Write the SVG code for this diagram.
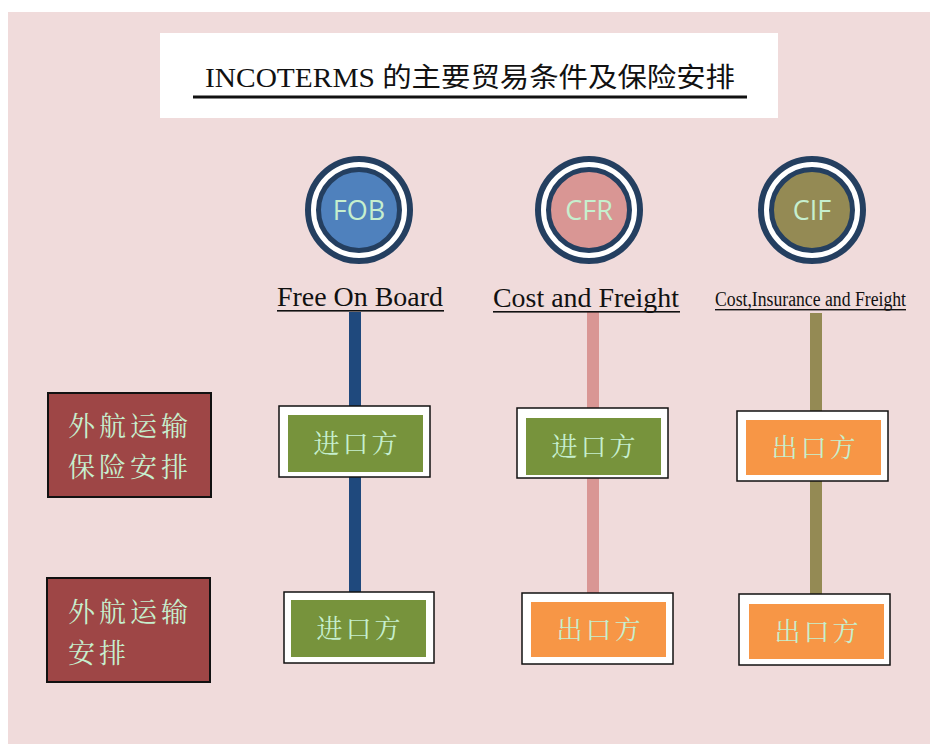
<svg xmlns="http://www.w3.org/2000/svg" width="930" height="744" viewBox="0 0 930 744">
<defs>
<style>
.bg{fill:#F0DBDB}
.ring{stroke:#243F60}
.ctext{font-family:"Open Sans","Liberation Sans",sans-serif;font-size:27px;fill:#C6EFCE;text-anchor:middle}
.lab{font-family:"Liberation Serif","Times New Roman",serif;font-size:27px;fill:#111}
.box{fill:#fff;stroke:#111;stroke-width:1.5}
.green{fill:#77933C}
.orange{fill:#F79646}
.btext{font-family:"Noto Serif CJK SC","Noto Sans CJK SC",serif;font-size:26px;fill:#C6EFCE;text-anchor:middle;letter-spacing:3px}
.side{fill:#9E4646;stroke:#111;stroke-width:2}
.stext{font-family:"Noto Serif CJK SC","Noto Sans CJK SC",serif;font-size:27px;fill:#C6EFCE;letter-spacing:4px}
</style>
</defs>
<rect x="0" y="0" width="930" height="744" fill="#fff"/>
<rect class="bg" x="8" y="12" width="922" height="732"/>

<g id="title">
<rect x="160" y="33" width="618" height="85" fill="#fff"/>
<text x="205" y="87" font-family="Liberation Serif,'Noto Sans CJK SC',serif" font-size="27" fill="#111" textLength="530" lengthAdjust="spacingAndGlyphs">INCOTERMS 的主要贸易条件及保险安排</text>
<rect x="193" y="95.5" width="554" height="3" fill="#111"/>
</g>

<g id="connectors">
<rect x="349" y="312" width="12" height="280" fill="#1F497D"/>
<rect x="587" y="312" width="12" height="282" fill="#D99694"/>
<rect x="810" y="313" width="12" height="282" fill="#948A54"/>
</g>

<g id="fob">
<circle cx="359" cy="210" r="51" fill="#fff" class="ring" stroke-width="6"/>
<circle cx="359" cy="210" r="40.5" fill="#4F81BD" class="ring" stroke-width="5"/>
<text class="ctext" x="359" y="220">FOB</text>
<text class="lab" x="277" y="306" textLength="166" lengthAdjust="spacingAndGlyphs">Free On Board</text>
<rect x="277" y="310" width="167" height="1.6" fill="#111"/>
</g>
<g id="cfr">
<circle cx="589" cy="210" r="51" fill="#fff" class="ring" stroke-width="6"/>
<circle cx="589" cy="210" r="40.5" fill="#D99694" class="ring" stroke-width="5"/>
<text class="ctext" x="589" y="220">CFR</text>
<text class="lab" x="493" y="307" textLength="186" lengthAdjust="spacingAndGlyphs">Cost and Freight</text>
<rect x="493" y="311" width="187" height="1.6" fill="#111"/>
</g>
<g id="cif">
<circle cx="812" cy="210" r="51" fill="#fff" class="ring" stroke-width="6"/>
<circle cx="812" cy="210" r="40.5" fill="#948A54" class="ring" stroke-width="5"/>
<text class="ctext" x="812" y="220">CIF</text>
<text x="715" y="306" font-family="Liberation Serif,serif" font-size="20" fill="#111" textLength="191" lengthAdjust="spacingAndGlyphs">Cost,Insurance and Freight</text>
<rect x="715" y="309" width="191" height="1.4" fill="#111"/>
</g>

<g id="side-insurance">
<rect class="side" x="48" y="393" width="163" height="104"/>
<text class="stext" x="68" y="436">外航运输</text>
<text class="stext" x="68" y="477">保险安排</text>
</g>
<g id="side-transport">
<rect class="side" x="47" y="578" width="163" height="104"/>
<text class="stext" x="68" y="622">外航运输</text>
<text class="stext" x="68" y="663">安排</text>
</g>

<g id="fob-ins">
<rect class="box" x="279" y="406" width="151" height="71"/>
<rect class="green" x="288" y="415" width="135" height="57"/>
<text class="btext" x="357" y="453">进口方</text>
</g>
<g id="cfr-ins">
<rect class="box" x="517" y="408" width="151" height="70"/>
<rect class="green" x="526" y="418" width="135" height="57"/>
<text class="btext" x="595" y="456">进口方</text>
</g>
<g id="cif-ins">
<rect class="box" x="737" y="411" width="151" height="70"/>
<rect class="orange" x="746" y="420" width="135" height="55"/>
<text class="btext" x="815" y="457">出口方</text>
</g>
<g id="fob-tr">
<rect class="box" x="284" y="592" width="150" height="71"/>
<rect class="green" x="291" y="600" width="135" height="57"/>
<text class="btext" x="360" y="638">进口方</text>
</g>
<g id="cfr-tr">
<rect class="box" x="522" y="593" width="151" height="71"/>
<rect class="orange" x="531" y="602" width="135" height="55"/>
<text class="btext" x="600" y="639">出口方</text>
</g>
<g id="cif-tr">
<rect class="box" x="739" y="594" width="151" height="71"/>
<rect class="orange" x="749" y="604" width="135" height="55"/>
<text class="btext" x="818" y="641">出口方</text>
</g>
</svg>
